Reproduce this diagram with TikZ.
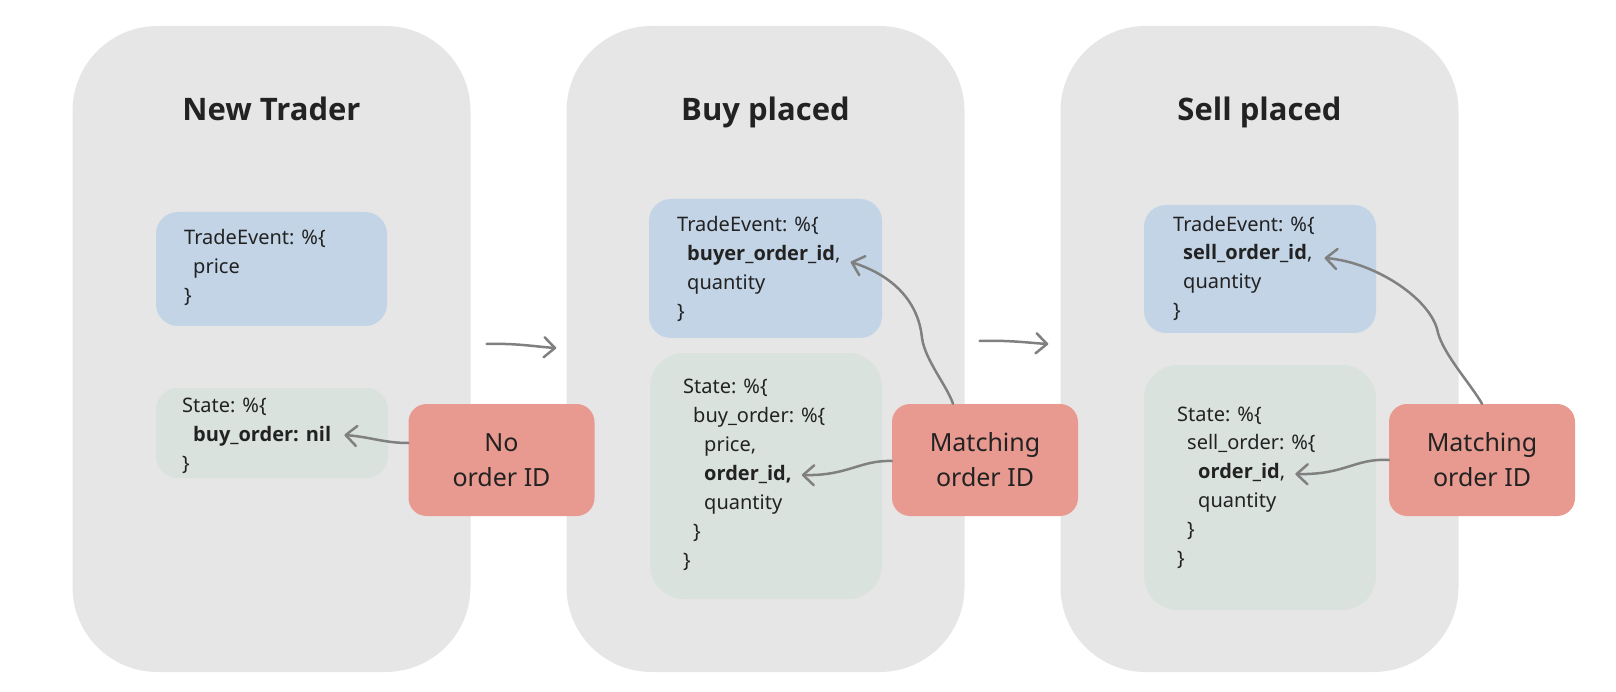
\documentclass[tikz,border=0pt]{standalone}
\usepackage{fontspec}
\setmainfont{Noto Sans}
\newfontfamily\boldfam{Open Sans}
\newcommand{\bfx}[1]{{\boldfam\bfseries #1}}
\usetikzlibrary{arrows.meta,calc}
\definecolor{panelgray}{HTML}{E6E6E6}
\definecolor{boxblue}{HTML}{C2D4E6}
\definecolor{boxgreen}{HTML}{DAE2DE}
\definecolor{boxred}{HTML}{E89A90}
\definecolor{linegray}{HTML}{808080}
\definecolor{textdark}{HTML}{222222}
\begin{document}
\begin{tikzpicture}[x=1pt,y=-1pt,
  panel/.style={fill=panelgray, rounded corners=85pt, minimum width=398pt, minimum height=646pt, inner sep=0pt},
  title/.style={anchor=base, inner sep=0pt, text=textdark, font=\fontsize{31}{38}\selectfont\boldfam\bfseries},
  bluebox/.style={fill=boxblue, rounded corners=22pt, inner sep=0pt},
  greenbox/.style={fill=boxgreen, rounded corners=22pt, inner sep=0pt},
  redbox/.style={fill=boxred, rounded corners=18pt, inner sep=0pt, minimum width=186pt, minimum height=112pt, align=center, text=textdark, font=\fontsize{25}{35}\selectfont},
  code/.style={anchor=base west, inner sep=0pt, text=textdark, font=\fontsize{20}{24}\selectfont},
  codeb/.style={code, font=\fontsize{20}{24}\selectfont\boldfam\bfseries},
  conn/.style={draw=linegray, line width=2.5pt, line cap=round, line join=round, -{Straight Barb[length=11pt,width=20pt,round]}},
]
\useasboundingbox (0,0) rectangle (1616,692);

% panels
\node[panel] (p1) at (271.5,349) {};
\node[panel] (p2) at (765.5,349) {};
\node[panel] (p3) at (1259.5,349) {};

% titles
\node[title] (t1) at (271.5,121) {New Trader};
\node[title] (t2) at (765.5,121) {Buy placed};
\node[title] (t3) at (1259.5,121) {Sell placed};

% panel 1 boxes
\node[bluebox, minimum width=231pt, minimum height=114pt] (b1) at (271.5,269) {};
\node[greenbox, minimum width=232pt, minimum height=90pt] (g1) at (272,433) {};
\node[redbox] (r1) at (501.5,460) {No\\order ID};

\node[code] (b1l1) at (184,245) {TradeEvent: \%\{};
\node[code] (b1l2) at (193,274) {price};
\node[code] (b1l3) at (184,303) {\}};

\node[code] (g1l1) at (182,412) {State: \%\{};
\node[codeb] (g1l2) at (193,441) {buy\_order: nil};
\node[code] (g1l3) at (182,470) {\}};

% panel 2 boxes
\node[bluebox, minimum width=233pt, minimum height=139pt] (b2) at (765.5,268.5) {};
\node[greenbox, rounded corners=34pt, minimum width=232pt, minimum height=246pt] (g2) at (766,476) {};
\node[redbox] (r2) at (985,460) {Matching\\order ID};

\node[code] (b2l1) at (677,232) {TradeEvent: \%\{};
\node[code] (b2l2) at (687,261) {\bfx{buyer\_order\_id},};
\node[code] (b2l3) at (687,290) {quantity};
\node[code] (b2l4) at (677,319) {\}};

\node[code] (g2l1) at (683,393) {State: \%\{};
\node[code] (g2l2) at (693,422) {buy\_order: \%\{};
\node[code] (g2l3) at (704,451) {price,};
\node[codeb] (g2l4) at (704,480) {order\_id,};
\node[code] (g2l5) at (704,509) {quantity};
\node[code] (g2l6) at (693,538) {\}};
\node[code] (g2l7) at (683,567) {\}};

% panel 3 boxes
\node[bluebox, minimum width=232pt, minimum height=128pt] (b3) at (1260,269) {};
\node[greenbox, rounded corners=34pt, minimum width=232pt, minimum height=245pt] (g3) at (1260,487.5) {};
\node[redbox] (r3) at (1482,460) {Matching\\order ID};

\node[code] (b3l1) at (1173,232) {TradeEvent: \%\{};
\node[code] (b3l2) at (1183,260) {\bfx{sell\_order\_id},};
\node[code] (b3l3) at (1183,289) {quantity};
\node[code] (b3l4) at (1173,318) {\}};

\node[code] (g3l1) at (1177,421) {State: \%\{};
\node[code] (g3l2) at (1187,449) {sell\_order: \%\{};
\node[code] (g3l3) at (1198,478) {\bfx{order\_id},};
\node[code] (g3l4) at (1198,507) {quantity};
\node[code] (g3l5) at (1187,536) {\}};
\node[code] (g3l6) at (1177,565) {\}};

% intermediate points of the wavy connectors
\coordinate (m2) at (922,338);
\coordinate (m3) at (1438,333);

% connectors between panels
\draw[conn] ($(p1.east)+(16,-5)$) .. controls +(30,-1) and +(-18,-1) .. ($(p2.west)+(-10,-1)$);
\draw[conn] ($(p2.east)+(15,-8)$) .. controls +(30,-1) and +(-18,-1) .. ($(p3.west)+(-12,-5)$);

% panel 1 connector
\draw[conn] ($(r1.west)+(0,-17)$) .. controls +(-24,0) and +(26,2) .. ($(g1l2.base east)+(13,-6)$);

% panel 2 connectors
\draw[conn] ($(r2.west)+(0,1)$) .. controls +(-32,-1) and +(46,1) .. ($(g2l4.base east)+(10,-5)$);
\draw[conn] ($(r2.north)+(-32,0)$) .. controls +(-6,-18) and +(3,22) .. (m2)
  .. controls +(-4,-40) and +(38,12) .. ($(b2l2.base east)+(10,1)$);

% panel 3 connectors
\draw[conn] (r3.west) .. controls +(-34,-2) and +(50,1) .. ($(g3l3.base east)+(10,-4)$);
\draw[conn] (r3.north) .. controls +(-10,-18) and +(6,22) .. (m3)
  .. controls +(-6,-34) and +(50,4) .. ($(b3l2.base east)+(12,-2)$);
\end{tikzpicture}
\end{document}
